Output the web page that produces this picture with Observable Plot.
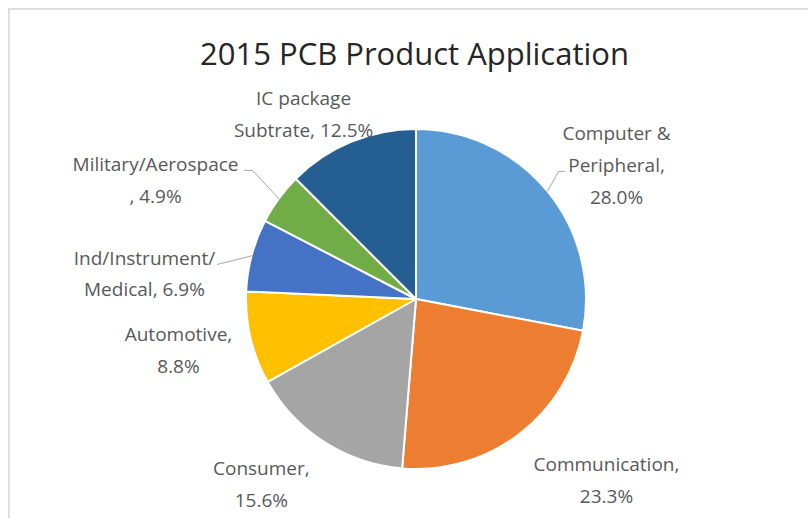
<!DOCTYPE html>
<html>
<head>
<meta charset="utf-8">
<script src="https://cdn.jsdelivr.net/npm/d3@7"></script>
<script src="https://cdn.jsdelivr.net/npm/@observablehq/plot@0.6"></script>
<style>
  html, body { margin: 0; padding: 0; background: #fff; }
  #wrap { position: relative; width: 808px; height: 518px; overflow: hidden; }
  #frame { position: absolute; left: 8px; top: 8px; right: -10px; bottom: -10px;
           border-top: 2px solid #dedede; border-left: 2px solid #dedede; pointer-events: none; }
  #chart { position: absolute; left: 0; top: 0; }
</style>
</head>
<body>
<div id="wrap"><div id="chart"></div><div id="frame"></div></div>
<script>
// ---- data ----
const chartTitle = "2015 PCB Product Application";
const categories = ["Computer &\nPeripheral", "Communication", "Consumer", "Automotive",
                    "Ind/Instrument/\nMedical", "Military/Aerospace", "IC package\nSubtrate"];
const shares = [28.0, 23.3, 15.6, 8.8, 6.9, 4.9, 12.5];
const colors = ["#5B9BD5", "#ED7D31", "#A5A5A5", "#FFC000", "#4472C4", "#70AD47", "#255E91"];

// ---- layout (label placement, in pie-radius units / degrees) ----
const labelSep = [",\n", ",\n", ",\n", ",\n", ", ", "\n, ", ", "];
const labelRadius = [1.416, 1.543, 1.42, 1.432, 1.607, 1.687, 1.275];
const labelAngle = [56.2, 133.6, 220.0, 257.9, 275.3, 294.5, 328.6];
const leaders = [
  {i: 0, pts: [[null, 1], [48.0, 1.125], [49.1, 1.151]]},
  {i: 4, pts: [[null, 1], [280.0, 1.189]]},
  {i: 5, pts: [[null, 1], [308.2, 1.227], [306.9, 1.265]]}
];

const W = 808, H = 518, CX = 416, CY = 299, R = 170;

const arcs = d3.pie().sort(null).value(d => d)(shares);
const midDeg = arcs.map(a => (a.startAngle + a.endAngle) / 2 * 180 / Math.PI);
const polar = (deg, r) => {
  const t = deg * Math.PI / 180;
  return {x: r * Math.sin(t), y: r * Math.cos(t)};
};

const labels = categories.map((c, i) => ({
  text: c + labelSep[i] + shares[i].toFixed(1) + "%",
  ...polar(labelAngle[i], labelRadius[i])
}));

const leaderPts = leaders.flatMap(L =>
  L.pts.map(([deg, r]) => ({z: L.i, ...polar(deg == null ? midDeg[L.i] : deg, r)})));

function pieMark(index, scales) {
  const cx = scales.x(0), cy = scales.y(0), r = scales.x(1) - scales.x(0);
  const g = d3.create("svg:g").attr("transform", `translate(${cx},${cy})`);
  const arc = d3.arc().innerRadius(0).outerRadius(r);
  g.selectAll("path").data(arcs).join("path")
    .attr("d", arc)
    .attr("fill", (d, i) => colors[i])
    .attr("stroke", "#ffffff")
    .attr("stroke-width", 2)
    .attr("stroke-linejoin", "round");
  return g.node();
}

const plot = Plot.plot({
  width: W, height: H,
  margin: 0,
  style: {background: "transparent", fontFamily: "'Open Sans', sans-serif", overflow: "visible"},
  x: {domain: [-CX / R, (W - CX) / R], range: [0, W], axis: null},
  y: {domain: [-(H - CY) / R, CY / R], range: [H, 0], axis: null},
  marks: [
    pieMark,
    Plot.line(leaderPts, {x: "x", y: "y", z: "z", stroke: "#a6a6a6", strokeWidth: 1}),
    Plot.text(labels, {x: "x", y: "y", text: "text", fontSize: 19, lineHeight: 1.68, dy: -4,
                       fill: "#595959", textAnchor: "middle", lineAnchor: "middle"}),
    Plot.text([chartTitle], {frameAnchor: "top", dx: 10, dy: 55, lineAnchor: "middle",
                             fontSize: 31, fill: "#262626"})
  ]
});
document.getElementById("chart").appendChild(plot);
</script>
</body>
</html>
